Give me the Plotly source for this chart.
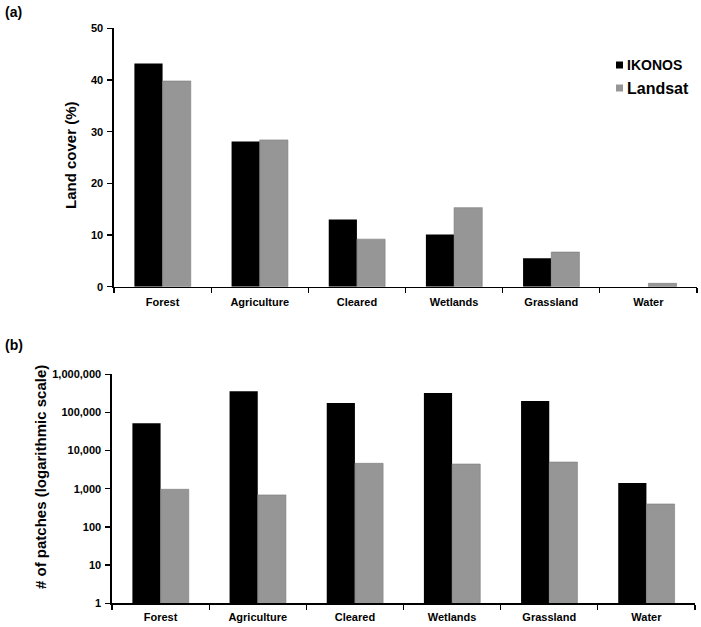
import plotly.graph_objects as go

W, H = 701, 627

categories = ["Forest", "Agriculture", "Cleared", "Wetlands", "Grassland", "Water"]
cover_ikonos = [43.2, 28.1, 13.0, 10.1, 5.5, 0.0]
cover_landsat = [39.8, 28.4, 9.2, 15.3, 6.7, 0.65]
patches_ikonos = [52000, 358000, 177000, 323000, 200000, 1420]
patches_landsat = [970, 690, 4650, 4460, 5020, 400]
log_tickvals = [1, 10, 100, 1000, 10000, 100000, 1000000]
log_ticktext = ["1", "10", "100", "1,000", "10,000", "100,000", "1,000,000"]

BLACK = "#000000"
GREY = "#969696"
FONT = "Liberation Sans"

def px_x(x):
    return x / W

def px_y(y):
    return 1 - y / H

fig = go.Figure()
fig.add_bar(x=categories, y=cover_ikonos, name="IKONOS", marker=dict(color=BLACK, line=dict(width=0)),
            xaxis="x", yaxis="y")
fig.add_bar(x=categories, y=cover_landsat, name="Landsat", marker=dict(color=GREY, line=dict(color="#7a7a7a", width=0.6)),
            xaxis="x", yaxis="y")
fig.add_bar(x=categories, y=patches_ikonos, name="IKONOS", marker=dict(color=BLACK, line=dict(width=0)),
            xaxis="x2", yaxis="y2")
fig.add_bar(x=categories, y=patches_landsat, name="Landsat", marker=dict(color=GREY, line=dict(color="#7a7a7a", width=0.6)),
            xaxis="x2", yaxis="y2")

tickfont = dict(family=FONT, size=11, color="black", weight="bold")
axis_common = dict(showline=True, linecolor="black", linewidth=1.6, ticks="outside", ticklen=5,
                   tickcolor="black", tickwidth=1.3, showgrid=False, zeroline=False, tickfont=tickfont,
                   automargin=False)

fig.update_layout(
    width=W, height=H,
    autosize=False,
    margin=dict(l=0, r=0, t=0, b=0, pad=0, autoexpand=False),
    paper_bgcolor="white", plot_bgcolor="white",
    showlegend=False,
    hovermode=False,
    barmode="group", bargap=0.42, bargroupgap=0,
    font=dict(family=FONT, color="black"),
    xaxis=dict(domain=[px_x(114), px_x(697)], anchor="y", tickson="boundaries",
               ticklabelstandoff=4, **axis_common),
    yaxis=dict(domain=[px_y(286.7), px_y(28.3)], anchor="x", range=[0, 50], dtick=10,
               ticklabelstandoff=2, **axis_common),
    xaxis2=dict(domain=[px_x(112), px_x(695)], anchor="y2", tickson="boundaries",
                ticklabelstandoff=3, **axis_common),
    yaxis2=dict(domain=[px_y(603.3), px_y(374.3)], anchor="x2", type="log", range=[0, 6],
                tickvals=log_tickvals, ticktext=log_ticktext, ticklabelstandoff=2, **axis_common),
)

titlefont = dict(family=FONT, size=15, color="black", weight="bold")
annotations = [
    dict(text="(a)", x=px_x(3), y=px_y(12), xanchor="left", yanchor="middle",
         font=dict(family=FONT, size=14, color="black", weight="bold")),
    dict(text="(b)", x=px_x(3), y=px_y(345), xanchor="left", yanchor="middle",
         font=dict(family=FONT, size=14, color="black", weight="bold")),
    dict(text="Land cover (%)", x=px_x(70), y=px_y(155), textangle=-90, xanchor="center", yanchor="middle",
         font=titlefont),
    dict(text="# of patches (logarithmic scale)", x=px_x(40), y=px_y(477), textangle=-90,
         xanchor="center", yanchor="middle", font=titlefont),
    dict(text="IKONOS", x=px_x(625), y=px_y(65.5), xanchor="left", yanchor="middle",
         font=dict(family=FONT, size=14, color="black", weight="bold")),
    dict(text="Landsat", x=px_x(625), y=px_y(88), xanchor="left", yanchor="middle",
         font=dict(family=FONT, size=16, color="black", weight="bold")),
]
for a in annotations:
    a.update(xref="paper", yref="paper", showarrow=False)
fig.update_layout(annotations=annotations)

fig.update_layout(shapes=[
    dict(type="rect", xref="paper", yref="paper", x0=px_x(616), x1=px_x(623), y0=px_y(68.5), y1=px_y(61.5),
         fillcolor=BLACK, line=dict(width=0)),
    dict(type="rect", xref="paper", yref="paper", x0=px_x(616), x1=px_x(623), y0=px_y(91.5), y1=px_y(84.5),
         fillcolor=GREY, line=dict(width=0)),
])

fig.write_html("out.html", config={"displayModeBar": False, "staticPlot": True},
               post_script="document.body.style.margin='0';")
